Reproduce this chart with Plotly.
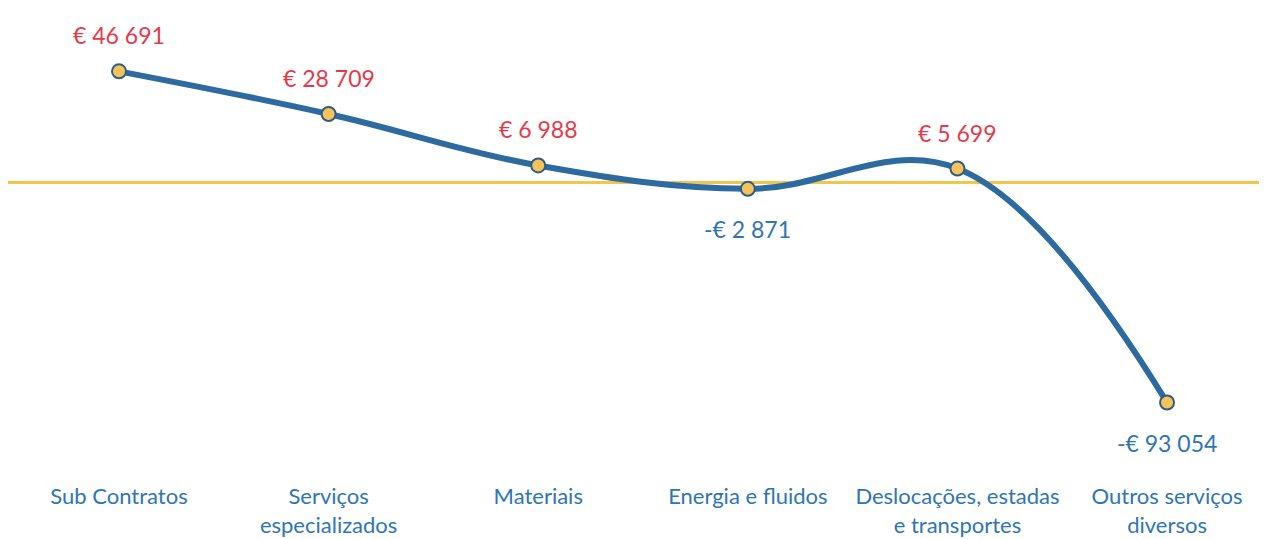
import plotly.graph_objects as go

categories = ["Sub Contratos", "Serviços<br>especializados", "Materiais",
              "Energia e fluidos", "Deslocações, estadas<br>e transportes",
              "Outros serviços<br>diversos"]
values = [46691, 28709, 6988, -2871, 5699, -93054]


def fmt(v):
    s = f"{abs(v):,}".replace(",", " ")
    return ("-€ " if v < 0 else "€ ") + s


RED = "#E5394A"
BLUE = "#2E75B6"
FONT = "Lato"

fig = go.Figure()
fig.add_trace(go.Scatter(
    x=categories, y=values, mode="lines+markers",
    line=dict(color="#2D6A9F", width=6, shape="spline", smoothing=1.1),
    marker=dict(size=14, color="#F6C35A", line=dict(color="#2F5C85", width=2)),
    hoverinfo="skip", showlegend=False,
))

for c, v in zip(categories, values):
    fig.add_annotation(
        x=c, y=v, text=fmt(v), showarrow=False,
        yshift=36 if v >= 0 else -40,
        font=dict(family=FONT, size=23, color=RED if v >= 0 else BLUE),
    )

fig.update_layout(
    width=1267, height=539,
    margin=dict(l=0, r=0, t=0, b=66),
    paper_bgcolor="white", plot_bgcolor="white",
    font=dict(family=FONT),
    xaxis=dict(
        range=[-0.5296, 5.515], showgrid=False, zeroline=False, showline=False,
        ticks="", tickfont=dict(family=FONT, size=22, color=BLUE),
    ),
    yaxis=dict(
        range=[-126178, 73428], showgrid=False, showticklabels=False,
        zeroline=True, zerolinecolor="#F2C64A", zerolinewidth=2.5,
    ),
)

fig.write_html("out.html")
